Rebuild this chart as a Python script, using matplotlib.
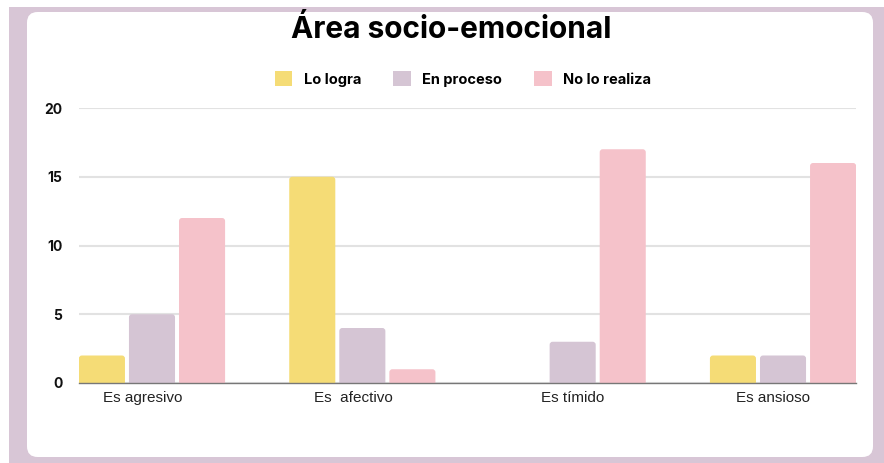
import matplotlib
matplotlib.use("Agg")
import matplotlib.pyplot as plt
import numpy as np
from matplotlib.patches import Rectangle, FancyBboxPatch, Patch

categories = ["Es agresivo", "Es  afectivo", "Es tímido", "Es ansioso"]
series_names = ["Lo logra", "En proceso", "No lo realiza"]
lo_logra = [2, 15, 0, 2]
en_proceso = [5, 4, 3, 2]
no_lo_realiza = [12, 1, 17, 16]
y_ticks = [0, 5, 10, 15, 20]
title = "Área socio-emocional"

colors = ["#F5DC76", "#D5C5D4", "#F5C2CA"]
border = "#D8C6D6"

W, H = 884, 463
fig = plt.figure(figsize=(W / 100, H / 100), dpi=100)
fig.patch.set_facecolor("white")

def fx(px):
    return px / W

def fy(py):
    return 1 - py / H

fig.patches.append(Rectangle((fx(9), 0), 1 - fx(9), fy(7), transform=fig.transFigure,
                             facecolor=border, edgecolor="none", zorder=-2))
fig.patches.append(FancyBboxPatch((fx(27), fy(457)), fx(873) - fx(27), fy(12) - fy(457),
                                  boxstyle="round,pad=0,rounding_size=0.012",
                                  transform=fig.transFigure, facecolor="white",
                                  edgecolor="none", zorder=-1, mutation_aspect=W / H))

ax_px = (79, 383, 856, 108)
ax = fig.add_axes([fx(ax_px[0]), fy(ax_px[1]), fx(ax_px[2]) - fx(ax_px[0]), fy(ax_px[3]) - fy(ax_px[1])])
ax.set_zorder(2)
ax.set_facecolor("none")
x = np.arange(len(categories))
step = 0.238
width = 0.219
xlim = (-0.347, 3.347)
ylim = (0, 20)
ax.set_xlim(*xlim)
ax.set_ylim(*ylim)

xu_per_px = (xlim[1] - xlim[0]) / (ax_px[2] - ax_px[0])
yu_per_px = (ylim[1] - ylim[0]) / (ax_px[1] - ax_px[3])
radius_px = 3

for i, (vals, c) in enumerate(zip([lo_logra, en_proceso, no_lo_realiza], colors)):
    bars = ax.bar(x + (i - 1) * step, vals, width=width, color=c, zorder=3)
    for b in bars:
        h = b.get_height()
        b.set_visible(False)
        if h <= 0:
            continue
        fb = FancyBboxPatch((b.get_x(), -1), b.get_width(), h + 1,
                            boxstyle=f"round,pad=0,rounding_size={radius_px * xu_per_px}",
                            mutation_aspect=yu_per_px / xu_per_px,
                            facecolor=c, edgecolor="none", zorder=3)
        ax.add_patch(fb)
        fb.set_clip_path(ax.patch)

ax.set_yticks(y_ticks)
ax.set_yticklabels([str(t) for t in y_ticks], fontfamily="Inter", fontweight="bold",
                   fontsize=10, color="#111111")
label_shift_px = np.array([-9, -9, 0, -10])
ax.set_xticks(x + label_shift_px * xu_per_px)
ax.set_xticklabels(categories, fontfamily="Liberation Sans", fontsize=11, color="#222222")
ax.tick_params(axis="both", length=0)
ax.tick_params(axis="y", pad=12)
ax.tick_params(axis="x", pad=6)
ax.grid(axis="y", color="#E2E2E2", linewidth=1.5, zorder=0)
ax.set_axisbelow(True)
for s in ["top", "right", "left"]:
    ax.spines[s].set_visible(False)
ax.spines["bottom"].set_color("#777777")
ax.spines["bottom"].set_linewidth(1.0)
ax.spines["bottom"].set_zorder(4)

fig.text(fx(451), fy(30), title, ha="center", va="center", fontfamily="Inter",
         fontweight="bold", fontsize=21.5, color="#000000", zorder=5)

handles = [Patch(facecolor=c, edgecolor="none") for c in colors]
leg = fig.legend(handles, series_names, loc="center", bbox_to_anchor=(fx(463), fy(79)),
                 ncol=3, frameon=False, handlelength=1.2, handleheight=1.2,
                 handletextpad=0.8, columnspacing=2.2,
                 prop={"family": "Inter", "weight": "bold", "size": 10.5})
leg.set_zorder(5)

fig.savefig("out.png", dpi=100, facecolor=fig.get_facecolor())
